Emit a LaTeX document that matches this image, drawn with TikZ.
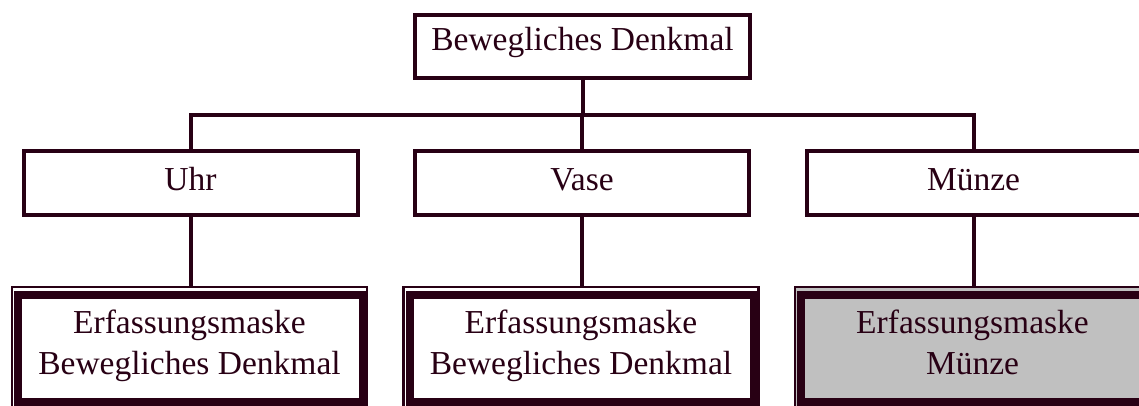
\documentclass[tikz,border=0pt]{standalone}
\usepackage{fontspec}
\setmainfont{Liberation Serif}
\definecolor{ink}{RGB}{40,0,20}
\definecolor{maskgray}{RGB}{192,192,192}
\begin{document}
\begin{tikzpicture}[x=1pt,y=-1pt,
  every node/.style={font=\fontsize{33.5}{41}\selectfont, text=ink, inner sep=0pt},
  catbox/.style={draw=ink, line width=4pt, fill=white, minimum width=334pt, minimum height=64pt, text height=28pt, text depth=14pt},
  rootbox/.style={draw=ink, line width=4pt, fill=white, minimum width=335pt, minimum height=63pt, text height=24pt, text depth=17pt},
  maskbox/.style={draw=ink, line width=2.5pt, fill=white, minimum width=355pt, minimum height=123pt, text height=20pt, text depth=51pt},
  masklines/.style={draw=ink, line width=8pt},
  link/.style={draw=ink, line width=4pt}]
\useasboundingbox (0,0) rectangle (1139,405);
\clip (0,0) rectangle (1139,405);

% top
\node[rootbox] (root) at (582.5,46.5) {Bewegliches Denkmal};

% middle row
\node[catbox] (uhr) at (190.5,183) {Uhr};
\node[catbox] (vase) at (582,183) {Vase};
\node[catbox] (muenze) at (973.5,183) {Münze};

% bottom row
\node[maskbox] (m1) at (189.5,348.5) {\begin{tabular}[t]{@{}c@{}}Erfassungsmaske\\Bewegliches Denkmal\end{tabular}};
\node[maskbox] (m2) at (581,348.5) {\begin{tabular}[t]{@{}c@{}}Erfassungsmaske\\Bewegliches Denkmal\end{tabular}};
\node[maskbox, fill=maskgray] (m3) at (972.5,348.5) {\begin{tabular}[t]{@{}c@{}}Erfassungsmaske\\Münze\end{tabular}};
\foreach \m in {m1,m2,m3}{
  \draw[masklines] ([xshift=7.5pt,yshift=-9pt]\m.north west) rectangle ([xshift=-5.5pt,yshift=9pt]\m.south east);
}

% connectors
\coordinate (j) at (582,114.8);
\draw[link] (root.south) -- (root.south |- j);
\draw[link] (uhr.north) |- (j) -| (muenze.north);
\draw[link] (j) -- (vase.north);
\draw[link] (uhr.south) -- (uhr.south |- m1.north);
\draw[link] (vase.south) -- (vase.south |- m2.north);
\draw[link] (muenze.south) -- (muenze.south |- m3.north);
\end{tikzpicture}
\end{document}
